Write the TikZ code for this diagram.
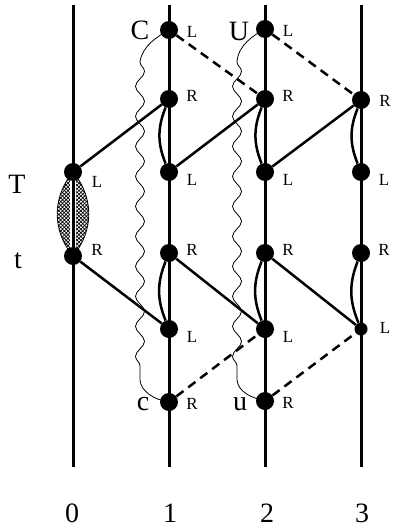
\documentclass[tikz,border=0pt]{standalone}
\usepackage{fontspec}
\setmainfont{Liberation Serif}
\usetikzlibrary{backgrounds,decorations.pathmorphing,patterns.meta}
\begin{document}
\begin{tikzpicture}[x=1pt,y=-1pt,
  dot/.style={circle,fill=black,inner sep=0pt,minimum size=18pt},
  sdot/.style={circle,fill=black,inner sep=0pt,minimum size=13pt},
  lbl/.style={font=\fontsize{17}{18}\selectfont,inner sep=0pt},
  big/.style={font=\fontsize{28}{30}\selectfont,inner sep=0pt,anchor=base},
  axisline/.style={line width=3pt},
  link/.style={line width=2.5pt},
  dlink/.style={line width=2.5pt,dash pattern=on 9pt off 6pt},
  wave/.style={line width=0.8pt},
  snk/.style={decoration={snake,amplitude=4.5pt,segment length=30pt}},
  lRu/.style={label={[lbl,xshift=23pt,yshift=3pt]center:R}},
  lRc/.style={label={[lbl,xshift=23pt,yshift=-2pt]center:R}},
  lLd/.style={label={[lbl,xshift=23pt,yshift=-8pt]center:L}},
  lLc/.style={label={[lbl,xshift=23pt,yshift=-2pt]center:L}},
]
\useasboundingbox (0,0) rectangle (392,527);
% axes end points
\coordinate (top0) at (73,5);  \coordinate (bot0) at (73,467);
\coordinate (top1) at (169,5); \coordinate (bot1) at (169,467);
\coordinate (top2) at (265,5); \coordinate (bot2) at (265,467);
\coordinate (top3) at (361,5); \coordinate (bot3) at (361,467);
% line 0
\node[dot,label={[lbl,xshift=24pt,yshift=-10pt]center:L}] (T0) at (73,172) {};
\node[dot,label={[lbl,xshift=24pt,yshift=6pt]center:R}] (t0) at (73,256) {};
% line 1
\node[dot,lLc] (e1) at (169,30) {};
\node[dot,lRu] (a1) at (169,99) {};
\node[dot,lLd] (b1) at (169,172) {};
\node[dot,lRu] (c1) at (169,253) {};
\node[dot,lLd] (d1) at (169,329) {};
\node[dot,lRc] (f1) at (169,402) {};
% line 2
\node[dot,lLc] (e2) at (265,29) {};
\node[dot,lRu] (a2) at (265,99) {};
\node[dot,lLd] (b2) at (265,172) {};
\node[dot,lRu] (c2) at (265,253) {};
\node[dot,lLd] (d2) at (265,329) {};
\node[dot,lRc] (f2) at (265,401) {};
% line 3
\node[dot,label={[lbl,xshift=24pt,yshift=-1pt]center:R}] (a3) at (361,100) {};
\node[dot,lLd] (b3) at (361,172) {};
\node[dot,lRu] (c3) at (361,253) {};
\node[sdot,label={[lbl,xshift=24pt,yshift=1pt]center:L}] (d3) at (361,329) {};
% big letters
\node[big] (lC) at (140,40) {C};
\node[big] (lU) at (239,41) {U};
\node[big] (lT) at (17,193) {T};
\node[big] (lt) at (18,268) {t};
\node[big] (lc) at (143,410) {c};
\node[big] (lu) at (240,410) {u};
\node[big] (n0) at (72,522) {0};
\node[big] (n1) at (170,522) {1};
\node[big] (n2) at (267,522) {2};
\node[big] (n3) at (362,522) {3};
\begin{scope}[on background layer]
  % lens
  \draw[line width=0.8pt,pattern={Hatch[distance=2.6pt,angle=45,line width=0.7pt]}]
    (T0.center) to[bend left=40] (t0.center) to[bend left=40] (T0.center);
  \draw[white,line width=6pt] (T0.center) -- (t0.center);
  % axes
  \draw[axisline] (top0) -- (bot0);
  \draw[axisline] (top1) -- (bot1);
  \draw[axisline] (top2) -- (bot2);
  \draw[axisline] (top3) -- (bot3);
  % wavy lines
  \draw[wave] (e1.center) .. controls (158,36) and (142,46) .. (140,62)
    decorate[snk] {-- (140,380)} .. controls (141,392) and (155,400) .. (f1.center);
  \draw[wave] (e2.center) .. controls (254,35) and (238,45) .. (237,62)
    decorate[snk] {-- (237,380)} .. controls (238,392) and (252,398) .. (f2.center);
  % arcs
  \draw[link] (a1) to[bend right=22] (b1);
  \draw[link] (c1) to[bend right=22] (d1);
  \draw[link] (a2) to[bend right=22] (b2);
  \draw[link] (c2) to[bend right=22] (d2);
  \draw[link] (a3) to[bend right=22] (b3);
  \draw[link] (c3) to[bend right=22] (d3);
  % diagonals
  \draw[link] (T0) -- (a1);
  \draw[link] (t0) -- (d1);
  \draw[link] (b1) -- (a2);
  \draw[link] (c1) -- (d2);
  \draw[link] (b2) -- (a3);
  \draw[link] (c2) -- (d3);
  % dashed
  \draw[dlink] (e1) -- (a2);
  \draw[dlink] (e2) -- (a3);
  \draw[dlink] (f1) -- (d2);
  \draw[dlink] (f2) -- (d3);
\end{scope}
\end{tikzpicture}
\end{document}
